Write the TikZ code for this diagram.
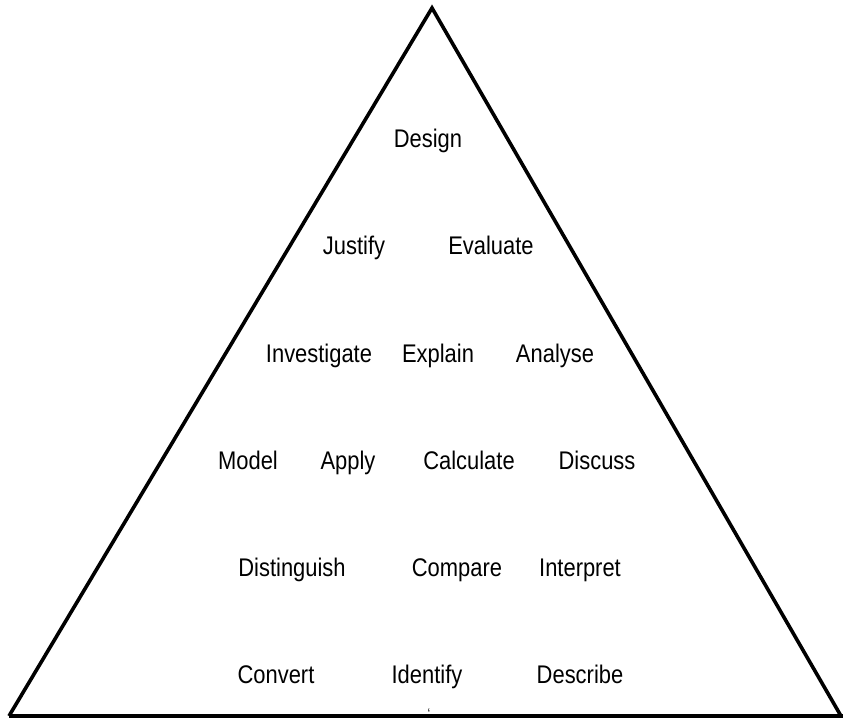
\documentclass[tikz,border=0pt]{standalone}
\usepackage{fontspec}
\setmainfont[FakeStretch=0.86]{Liberation Sans}
\begin{document}
\begin{tikzpicture}[x=1pt,y=-1pt,
  word/.style={font=\fontsize{25.5}{30}\selectfont, inner sep=0pt, anchor=base},
  edge/.style={line width=3.6pt, line join=miter}]
\useasboundingbox (0,0) rectangle (843,719);
% pyramid outline
\coordinate (apex) at (432,8);
\coordinate (bl) at (9,716);
\coordinate (br) at (841,716);
\coordinate (bre) at (843,716);
\draw[edge] (bl) -- (apex) -- (br);
\draw[edge] (bl) -- (bre);
% top tier
\node[word] (design) at (428,148) {Design};
% second tier
\node[word] (justify) at (354,255) {Justify};
\node[word] (evaluate) at (491,255) {Evaluate};
% third tier
\node[word] (investigate) at (319,362) {Investigate};
\node[word] (explain) at (438,362) {Explain};
\node[word] (analyse) at (555,362) {Analyse};
% fourth tier
\node[word] (model) at (248,469) {Model};
\node[word] (apply) at (348,469) {Apply};
\node[word] (calculate) at (469,469) {Calculate};
\node[word] (discuss) at (597,469) {Discuss};
% fifth tier
\node[word] (distinguish) at (292,576) {Distinguish};
\node[word] (compare) at (457,576) {Compare};
\node[word] (interpret) at (580,576) {Interpret};
% base tier
\node[word] (convert) at (276,683) {Convert};
\node[word] (identify) at (427,683) {Identify};
\node[word] (describe) at (580,683) {Describe};
% small mark above the base line
\node[font=\fontsize{14}{14}\selectfont, inner sep=0pt, anchor=base] (mark) at (429,711) {\raisebox{-7pt}[0pt][0pt]{‘}};
\end{tikzpicture}
\end{document}
